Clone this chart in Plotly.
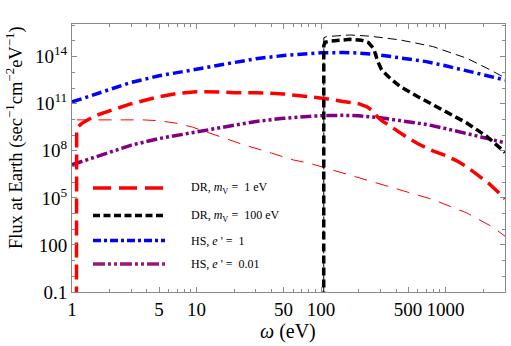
import plotly.graph_objects as go

# ---------------- data ----------------
# HS, e' = 1  (blue)
hs1_omega = [1, 1.5, 2, 3, 5, 7, 10, 15, 20, 30, 50, 70, 100, 150, 200, 300, 500, 700, 1000, 1500, 2000, 3000]
hs1_flux = [1.3e11, 3.7e11, 7.6e11, 2.3e12, 6.0e12, 1.0e13, 1.6e13, 2.8e13, 4.2e13, 7.4e13, 1.17e14, 1.5e14,
            1.74e14, 1.82e14, 1.7e14, 1.26e14, 7.6e13, 4.8e13, 2.6e13, 1.26e13, 7.1e12, 3.2e12]

# HS, e' = 0.01  (purple)
hs001_omega = [1, 1.5, 2, 3, 5, 7, 10, 15, 20, 30, 50, 70, 100, 150, 200, 300, 500, 700, 1000, 1500, 2000, 3000]
hs001_flux = [1.3e7, 3.7e7, 7.6e7, 2.3e8, 6.0e8, 1.0e9, 1.6e9, 2.8e9, 4.2e9, 7.4e9, 1.17e10, 1.5e10,
              1.74e10, 1.82e10, 1.7e10, 1.26e10, 7.6e9, 4.8e9, 2.6e9, 1.26e9, 7.1e8, 3.2e8]

# DR, m_V = 1 eV  (thick red)
dr1_omega = [1.085, 1.09, 1.2, 1.5, 2, 3, 5, 7, 10, 13, 16, 20, 30, 50, 80, 110, 150, 200, 234, 260, 285, 310,
             340, 400, 490, 600, 790, 1000, 1230, 1500, 1780, 2200, 2740, 3000]
dr1_flux = [1e-3, 2.8e9, 5.6e9, 1.6e10, 3.5e10, 1.0e11, 2.8e11, 4.5e11, 5.8e11, 6.0e11, 5.5e11, 5.0e11, 5.0e11,
            4.2e11, 2.9e11, 2.1e11, 1.4e11, 1.0e11, 6.3e10, 3.5e10, 1.4e10, 7.9e9,
            5.0e9, 2.0e9, 7.2e8, 2.8e8, 1.0e8, 5.0e7, 2.3e7, 8.9e6, 3.4e6, 8.9e5, 1.8e5, 8.9e4]

# DR, m_V = 1 eV  (thin red)
dr1b_omega = [1.09, 2, 3.7, 5, 7, 9.3, 15, 23.6, 40, 60, 81, 107, 160, 233, 430, 790, 1480, 2420, 3000]
dr1b_flux = [9.3e9, 9.5e9, 9.3e9, 8.3e9, 5.6e9, 3.2e9, 8.9e8, 2.5e8, 7.1e7, 2.6e7, 1.6e7, 8.3e6, 3.2e6,
             1.45e6, 3.4e5, 7.8e4, 1.1e4, 1.3e3, 3.6e2]

# DR, m_V = 100 eV  (thick black)
dr100_omega = [105, 105.2, 108, 120, 170, 210, 240, 265, 285, 306, 350, 430, 600, 790, 1100, 1480, 2140, 2870, 3000]
dr100_flux = [1e-3, 5.0e14, 8.3e14, 1.0e15, 1.26e15, 1.12e15, 7.9e14, 3.2e14, 5.0e13, 1.45e13, 5.0e12,
              1.26e12, 2.8e11, 8.5e10, 2.0e10, 5.9e9, 8.3e8, 1.17e8, 7.9e7]

# DR, m_V = 100 eV  (thin black)
dr100b_omega = [105, 105.3, 111, 170, 250, 430, 790, 1480, 2140, 2740, 3000]
dr100b_flux = [1e-3, 1.6e15, 1.9e15, 2.4e15, 2.0e15, 1.17e15, 4.4e14, 7.9e13, 1.86e13, 6.9e12, 4.5e12]

x_tickvals = [1, 5, 10, 50, 100, 500, 1000]
x_ticktext = ["1", "5", "10", "50", "100", "500", "1000"]
x_minor = [2, 3, 4, 6, 7, 8, 9, 20, 30, 40, 60, 70, 80, 90, 200, 300, 400, 600, 700, 800, 900, 2000, 3000]
y_tickvals = [0.1, 100, 1e5, 1e8, 1e11, 1e14]
y_ticktext = ["0.1", "100", "10<sup>5</sup>", "10<sup>8</sup>", "10<sup>11</sup>", "10<sup>14</sup>"]
y_minor = [1, 10, 1e3, 1e4, 1e6, 1e7, 1e9, 1e10, 1e12, 1e13, 1e15, 1e16]

legend_labels = ["DR, <i>m</i><sub>V</sub> =  1 eV", "DR, <i>m</i><sub>V</sub> =  100 eV",
                 "HS, <i>e</i> ' =  1", "HS, <i>e</i> ' =  0.01"]

# ---------------- styles ----------------
RED = "#ff0000"
BLACK = "#000000"
BLUE = "#0000ff"
PURPLE = "#800080"
PURPLE_LEG = "#9a1a70"
SERIF = "Liberation Serif, Times New Roman, serif"

fig = go.Figure()

def add(x, y, color, width, dash):
    fig.add_trace(go.Scatter(x=x, y=y, mode="lines", showlegend=False, hoverinfo="skip",
                             line=dict(color=color, width=width, dash=dash)))

add(dr1b_omega, dr1b_flux, RED, 1, "13px,9px")
add(dr100b_omega, dr100b_flux, BLACK, 1, "9px,5px")
add(hs1_omega, hs1_flux, BLUE, 3.5, "10px,4px,3px,4px")
add(hs001_omega, hs001_flux, PURPLE, 3.5, "11px,3px,3px,3px,3px,3px")
add(dr1_omega, dr1_flux, RED, 3.5, "15px,7px")
add(dr100_omega, dr100_flux, BLACK, 3.5, "8px,4px")

# ---------------- custom legend ----------------
L, R, T, B = 72, 6, 24, 54
W, H = 511, 346
pw, ph = W - L - R, H - T - B
def px(xp):
    return (xp - L) / pw
def py(yp):
    return (H - B - yp) / ph

leg_rows = [188, 215.5, 240.5, 264]
leg_styles = [(RED, "18px,8px"), (BLACK, "7px,3.5px"), (BLUE, "8px,3px,3px,3px"), (PURPLE_LEG, "12px,3px,3px,3px,3px,3px")]
shapes = []
annotations = []
for row, (col, dsh), lab in zip(leg_rows, leg_styles, legend_labels):
    shapes.append(dict(type="line", xref="paper", yref="paper", x0=px(93), x1=px(165), y0=py(row), y1=py(row),
                       line=dict(color=col, width=3.5, dash=dsh)))
    annotations.append(dict(text=lab, xref="paper", yref="paper", x=px(189), y=py(row), xanchor="left",
                            yanchor="middle", showarrow=False, font=dict(family=SERIF, size=12, color="black")))

annotations.append(dict(text="Flux at Earth (sec<sup>\u22121</sup>cm<sup>\u22122</sup>eV<sup>\u22121</sup>)",
                        xref="paper", yref="paper", x=px(14), y=py(138), xanchor="center", yanchor="middle",
                        textangle=-90, showarrow=False, font=dict(family=SERIF, size=18.5, color="black")))
annotations.append(dict(text="<i>\u03c9</i> (eV)", xref="paper", yref="paper", x=px(288), y=py(331),
                        xanchor="center", yanchor="middle", showarrow=False,
                        font=dict(family=SERIF, size=20, color="black")))

axis_common = dict(showgrid=False, zeroline=False, showline=True, linecolor="#8a8a8a", linewidth=1,
                   mirror="allticks", ticks="inside", ticklen=5, tickcolor="#8a8a8a", tickwidth=1,
                   automargin=False,
                   tickfont=dict(family=SERIF, size=19, color="black"))

fig.update_layout(
    width=W, height=H,
    margin=dict(l=L, r=R, t=T, b=B),
    paper_bgcolor="white", plot_bgcolor="white",
    showlegend=False,
    shapes=shapes, annotations=annotations,
    xaxis=dict(type="log", range=[0, 3.4771], tickmode="array", tickvals=x_tickvals, ticktext=x_ticktext,
               minor=dict(tickmode="array", tickvals=x_minor, ticks="inside", ticklen=3, tickcolor="#8a8a8a"),
               **axis_common),
    yaxis=dict(type="log", range=[-1, 16.08], tickmode="array", tickvals=y_tickvals, ticktext=y_ticktext,
               minor=dict(tickmode="array", tickvals=y_minor, ticks="inside", ticklen=3, tickcolor="#8a8a8a"),
               **axis_common),
)

fig.write_html("out.html", config={"displayModeBar": False},
               post_script="document.body.style.margin='0';document.body.style.padding='0';"
                           "document.documentElement.style.overflow='hidden';")
